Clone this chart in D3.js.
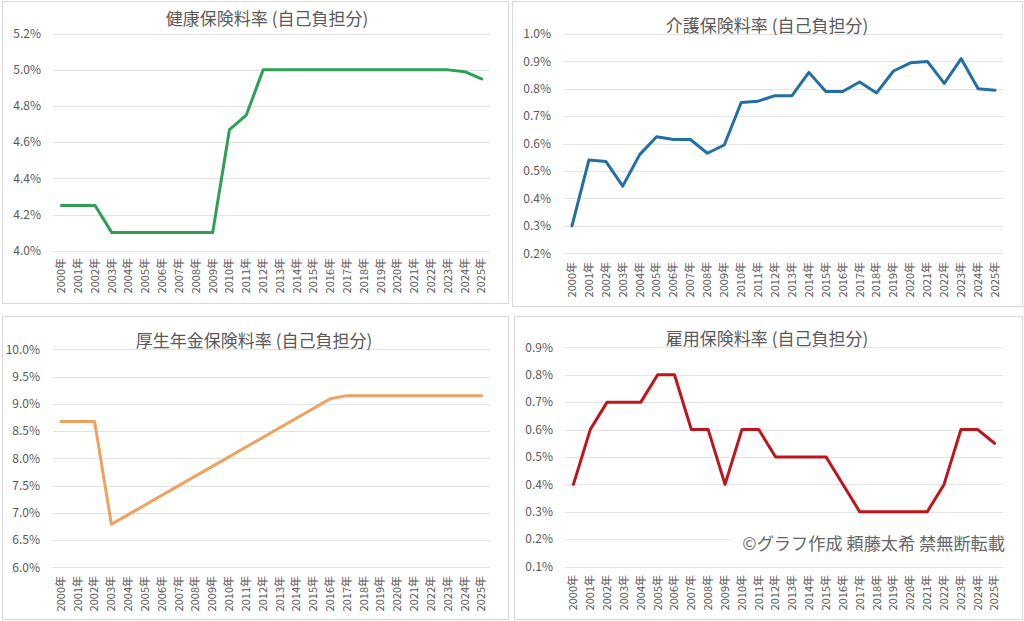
<!DOCTYPE html>
<html>
<head>
<meta charset="utf-8">
<script src="https://cdn.jsdelivr.net/npm/d3@7"></script>
<style>
  html, body { margin: 0; padding: 0; background: #fff; }
  svg { display: block; font-family: "Noto Sans CJK JP", "Noto Sans", sans-serif; }
</style>
</head>
<body>
<svg id="chart" width="1024" height="621"></svg>
<script>
const years = ["2000年","2001年","2002年","2003年","2004年","2005年","2006年","2007年","2008年","2009年",
  "2010年","2011年","2012年","2013年","2014年","2015年","2016年","2017年","2018年","2019年",
  "2020年","2021年","2022年","2023年","2024年","2025年"];

const healthValues = [4.25,4.25,4.25,4.10,4.10,4.10,4.10,4.10,4.10,4.10,
  4.67,4.75,5.00,5.00,5.00,5.00,5.00,5.00,5.00,5.00,5.00,5.00,5.00,5.00,4.99,4.95];
const careValues = [0.30,0.54,0.535,0.445,0.56,0.625,0.615,0.615,0.565,0.595,
  0.75,0.755,0.775,0.775,0.86,0.79,0.79,0.825,0.785,0.865,0.895,0.90,0.82,0.91,0.80,0.795];
const pensionValues = [8.675,8.675,8.675,6.79,6.967,7.144,7.321,7.498,7.675,7.852,
  8.029,8.206,8.383,8.56,8.737,8.914,9.091,9.15,9.15,9.15,9.15,9.15,9.15,9.15,9.15,9.15];
const employValues = [0.4,0.6,0.7,0.7,0.7,0.8,0.8,0.6,0.6,0.4,
  0.6,0.6,0.5,0.5,0.5,0.5,0.4,0.3,0.3,0.3,0.3,0.3,0.4,0.6,0.6,0.55];

const healthTicks = [4.0,4.2,4.4,4.6,4.8,5.0,5.2];
const careTicks = [0.2,0.3,0.4,0.5,0.6,0.7,0.8,0.9,1.0];
const pensionTicks = [6.0,6.5,7.0,7.5,8.0,8.5,9.0,9.5,10.0];
const employTicks = [0.1,0.2,0.3,0.4,0.5,0.6,0.7,0.8,0.9];

const titles = ["健康保険料率 (自己負担分)","介護保険料率 (自己負担分)","厚生年金保険料率 (自己負担分)","雇用保険料率 (自己負担分)"];
const watermark = "©グラフ作成 頼藤太希 禁無断転載";

const svg = d3.select("#chart");
const textColor = "#595959";

const panels = [
  { box:[2,1,508,303], xr:[53,490], yr:[250.7,33.7], values:healthValues, ticks:healthTicks, fmt:".1f",
    color:"#2e9f55", title:titles[0], tx:267, ty:19, labelRight:41, xlabTop:258 },
  { box:[512,1,1022,306], xr:[563.5,1003.5], yr:[253.3,34], values:careValues, ticks:careTicks, fmt:".1f",
    color:"#236fa3", title:titles[1], tx:767, ty:26, labelRight:551, xlabTop:262 },
  { box:[2,316,508,619], xr:[52.5,490], yr:[567.3,349.3], values:pensionValues, ticks:pensionTicks, fmt:".1f",
    color:"#eea25e", title:titles[2], tx:254, ty:341, labelRight:40, xlabTop:576 },
  { box:[514,316,1022,619], xr:[565,1003], yr:[566.7,347.3], values:employValues, ticks:employTicks, fmt:".1f",
    color:"#c0141c", title:titles[3], tx:767, ty:339, labelRight:553, xlabTop:575 }
];

panels.forEach((p, i) => {
  const g = svg.append("g");
  g.append("rect")
    .attr("x", p.box[0] + 0.5).attr("y", p.box[1] + 0.5)
    .attr("width", p.box[2] - p.box[0]).attr("height", p.box[3] - p.box[1])
    .attr("fill", "#fff").attr("stroke", "#d9d9d9").attr("stroke-width", 1);

  const x = d3.scaleBand().domain(years).range(p.xr).padding(0);
  const y = d3.scaleLinear().domain([p.ticks[0], p.ticks[p.ticks.length-1]]).range(p.yr);

  // gridlines
  g.selectAll("line.grid").data(p.ticks).join("line")
    .attr("class","grid")
    .attr("x1", p.xr[0]).attr("x2", p.xr[1])
    .attr("y1", d => Math.round(y(d)) + 0.5).attr("y2", d => Math.round(y(d)) + 0.5)
    .attr("stroke", "#e3e3e3").attr("stroke-width", 1);

  // y labels
  const fmt = d3.format(p.fmt);
  g.selectAll("text.ylab").data(p.ticks).join("text")
    .attr("class","ylab")
    .attr("x", p.labelRight).attr("y", d => y(d))
    .attr("dy", "0.35em")
    .attr("text-anchor", "end")
    .attr("font-size", 12)
    .attr("fill", textColor)
    .text(d => fmt(d) + "%");

  // x labels (rotated)
  g.selectAll("text.xlab").data(years).join("text")
    .attr("class","xlab")
    .attr("transform", d => `translate(${x(d) + x.bandwidth()/2},${p.xlabTop}) rotate(-90)`)
    .attr("text-anchor", "end")
    .attr("dy", "0.35em")
    .attr("font-size", 11)
    .attr("fill", textColor)
    .text(d => d);

  // title
  g.append("text")
    .attr("x", p.tx).attr("y", p.ty)
    .attr("dy", "0.35em")
    .attr("text-anchor", "middle")
    .attr("font-size", 17)
    .attr("fill", textColor)
    .text(p.title);

  // line
  const line = d3.line()
    .x((d, j) => x(years[j]) + x.bandwidth()/2)
    .y(d => y(d));
  g.append("path")
    .datum(p.values)
    .attr("d", line)
    .attr("fill", "none")
    .attr("stroke", p.color)
    .attr("stroke-width", 3)
    .attr("stroke-linejoin", "round")
    .attr("stroke-linecap", "round");

  if (i === 3) {
    g.append("rect")
      .attr("x", 731).attr("y", 530).attr("width", 280).attr("height", 28)
      .attr("fill", "#fff");
    g.append("text")
      .attr("x", 1005).attr("y", 544)
      .attr("dy", "0.35em")
      .attr("text-anchor", "end")
      .attr("font-size", 17.2)
      .attr("fill", "#666")
      .text(watermark);
  }
});
</script>
</body>
</html>
